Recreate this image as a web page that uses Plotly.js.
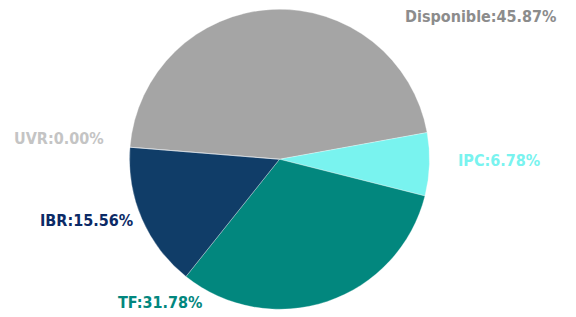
<!DOCTYPE html>
<html>
<head>
<meta charset="utf-8">
<script src="https://cdn.plot.ly/plotly-3.0.1.min.js"></script>
<style>html,body{margin:0;padding:0;background:#fff;}#chart{width:576px;height:317px;}</style>
</head>
<body>
<div id="chart"></div>
<script>
// Data (clockwise order starting from the left)
const categories = ["Disponible", "IPC", "TF", "IBR", "UVR"];
const shares = [45.87, 6.78, 31.78, 15.56, 0.00];
const labelTexts = ["Disponible:45.87%", "IPC:6.78%", "TF:31.78%", "IBR:15.56%", "UVR:0.00%"];

const sliceColors = ["#a5a5a5", "#79f3ef", "#02877e", "#103d68", "#bfbfbf"];
const textColors = ["#8c8c8c", "#79f3ef", "#02877e", "#0b2a66", "#c4c4c4"];
// label centre positions in pixels (layout only)
const labelPos = [[481, 16], [499, 161], [160, 302], [86, 220], [59, 138]];

const W = 576, H = 317;
const annotations = categories.map((c, i) => ({
  text: labelTexts[i],
  xref: "paper", yref: "paper",
  x: labelPos[i][0] / W, y: 1 - labelPos[i][1] / H,
  xanchor: "center", yanchor: "middle",
  showarrow: false,
  font: {family: "DejaVu Sans Condensed, DejaVu Sans", size: 16, color: textColors[i], weight: "bold"}
}));

const trace = {
  type: "pie",
  labels: categories,
  values: shares,
  sort: false,
  direction: "clockwise",
  rotation: -85.4,
  textinfo: "none",
  hoverinfo: "label+percent",
  marker: {colors: sliceColors, line: {color: "rgba(255,255,255,0.6)", width: 0.5}},
  domain: {x: [129.5 / W, 429.5 / W], y: [1 - 309.5 / H, 1 - 9 / H]},
  showlegend: false
};

Plotly.newPlot("chart", [trace], {
  width: W, height: H,
  margin: {l: 0, r: 0, t: 0, b: 0},
  paper_bgcolor: "#ffffff",
  showlegend: false,
  annotations: annotations
}, {displayModeBar: false, staticPlot: true});
</script>
</body>
</html>
